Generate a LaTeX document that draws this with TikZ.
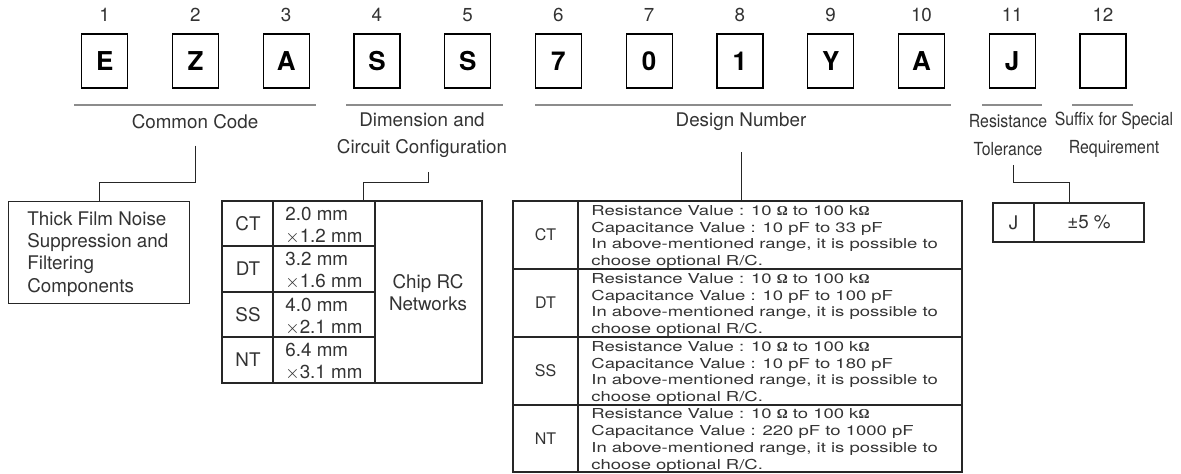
\documentclass[tikz,border=0pt]{standalone}
\usepackage{fontspec}
\setmainfont{TeX Gyre Heros}
\newfontfamily\widefont[FakeStretch=1.35]{TeX Gyre Heros}
\newfontfamily\narrowfont[FakeStretch=0.88]{TeX Gyre Heros}
\newfontfamily\ohmfont{Liberation Serif}
\newcommand{\ohm}{{\ohmfont\bfseries Ω}}
\usetikzlibrary{positioning}
\definecolor{inkgray}{gray}{0.2}
\definecolor{rulegray}{gray}{0.55}
\tikzset{
  codebox/.style={draw=black, line width=0.6pt, minimum width=23pt, minimum height=27pt,
    inner sep=0pt, text=black, font=\fontsize{13}{15}\selectfont\bfseries},
  codenum/.style={font=\fontsize{9.4}{11}\selectfont},
  groupline/.style={draw=rulegray, line width=1pt},
  grouplabel/.style={font=\fontsize{9.4}{13.5}\selectfont, align=center},
  narrowlabel/.style={font=\narrowfont\fontsize{9}{14}\selectfont, align=center},
  tableline/.style={draw=black!85, line width=0.55pt},
  leader/.style={draw=black!85, line width=0.5pt},
  celltext/.style={font=\fontsize{9.4}{11}\selectfont, align=left},
  codecell/.style={font=\fontsize{8}{10}\selectfont},
  rangetext/.style={font=\widefont\fontsize{6.85}{8.35}\selectfont, align=left},
}

\begin{document}
\begin{tikzpicture}[x=0.5pt, y=-0.5pt, every node/.style={inner sep=0pt, text=inkgray}]
\useasboundingbox (0,0) rectangle (1181,474);

\foreach \ch [count=\i] in {E,Z,A,S,S,7,0,1,Y,A,J,{}}{
  \node[codebox] (box\i) at ({104.7+90.75*(\i-1)},61) {\ch};
  \node[codenum] (num\i) at ({104.7+90.75*(\i-1)},15) {\i};
}

\draw[groupline] (74,105) -- (316,105);
\draw[groupline] (346,105) -- (503,105);
\draw[groupline] (535,105) -- (951,105);
\draw[groupline] (982,105) -- (1042,105);
\draw[groupline] (1072,105) -- (1133,105);

\node[grouplabel] (common) at (195,122) {Common Code};
\node[grouplabel] (dimension) at (422,135.5) {Dimension and\\Circuit Configuration};
\node[grouplabel] (design) at (741,122) {Design Number};
\node[narrowlabel] (tolerance) at (1008,135) {Resistance\\Tolerance};
\node[narrowlabel] (suffix) at (1114,135) {Suffix for Special\\Requirement};

\node[draw=black!85, line width=0.55pt, minimum width=90.5pt, minimum height=51pt,
  anchor=north west] (noise) at (8,201) {};
\node[celltext, anchor=north west, font=\fontsize{9.4}{11.15}\selectfont] (noisetext) at (27,211)
  {Thick Film Noise\\Suppression and\\Filtering\\Components};

\draw[tableline] (222,201) rectangle (482,383);
\draw[tableline] (273,201) -- (273,383) (375,201) -- (375,383);
\foreach \y in {246,292,337} \draw[tableline] (222,\y) -- (375,\y);
\foreach \c/\y/\a/\b [count=\k] in {CT/223.5/2.0/1.2, DT/269/3.2/1.6, SS/314.5/4.0/2.1, NT/360/6.4/3.1}{
  \node[celltext] (chipcode\k) at (248,\y) {\c};
  \node[celltext, anchor=west] (chipsize\k) at (285,\y+2) {\a{} mm\\$\times$\b{} mm};
}
\node[celltext, align=center] (chipname) at (428,293) {Chip RC\\Networks};

\draw[tableline] (513,201) rectangle (962,472);
\draw[tableline] (578,201) -- (578,472);
\foreach \y in {269,337,405} \draw[tableline] (513,\y) -- (962,\y);
\foreach \c/\y/\lo/\hi [count=\k] in {CT/235/10/33, DT/303/10/100, SS/371/10/180, NT/438.5/220/1000}{
  \node[codecell] (rccode\k) at (545.5,\y) {\c};
  \node[rangetext, anchor=west] (rcrange\k) at (591,\y+2)
    {Resistance Value : 10 \ohm{} to 100 k\ohm\\Capacitance Value : \lo{} pF to \hi{} pF\\
     In above-mentioned range, it is possible to\\choose optional R/C.};
}

\draw[tableline] (993,203) rectangle (1144,242);
\draw[tableline] (1034,203) -- (1034,242);
\node[celltext] (tolcode) at (1013.5,222.5) {J};
\node[celltext] (tolvalue) at (1089,222.5) {±5 \%};

\coordinate[below=8pt of common] (commonfoot);
\coordinate (dimfoot) at (428,172);
\coordinate[below=10.5pt of design] (designfoot);
\coordinate (tolfoot) at (1013,165);
\coordinate (chiptop) at (363,201);
\coordinate (designtop) at (741,201);
\coordinate (toltop) at (1069,203);

\draw[leader] (commonfoot) |- ([yshift=9pt]noise.north) -- (noise.north);
\draw[leader] (dimfoot) |- ([yshift=9pt]chiptop) -- (chiptop);
\draw[leader] (designfoot) -- (designtop);
\draw[leader] (tolfoot) |- ([yshift=10pt]toltop) -- (toltop);

\end{tikzpicture}
\end{document}
